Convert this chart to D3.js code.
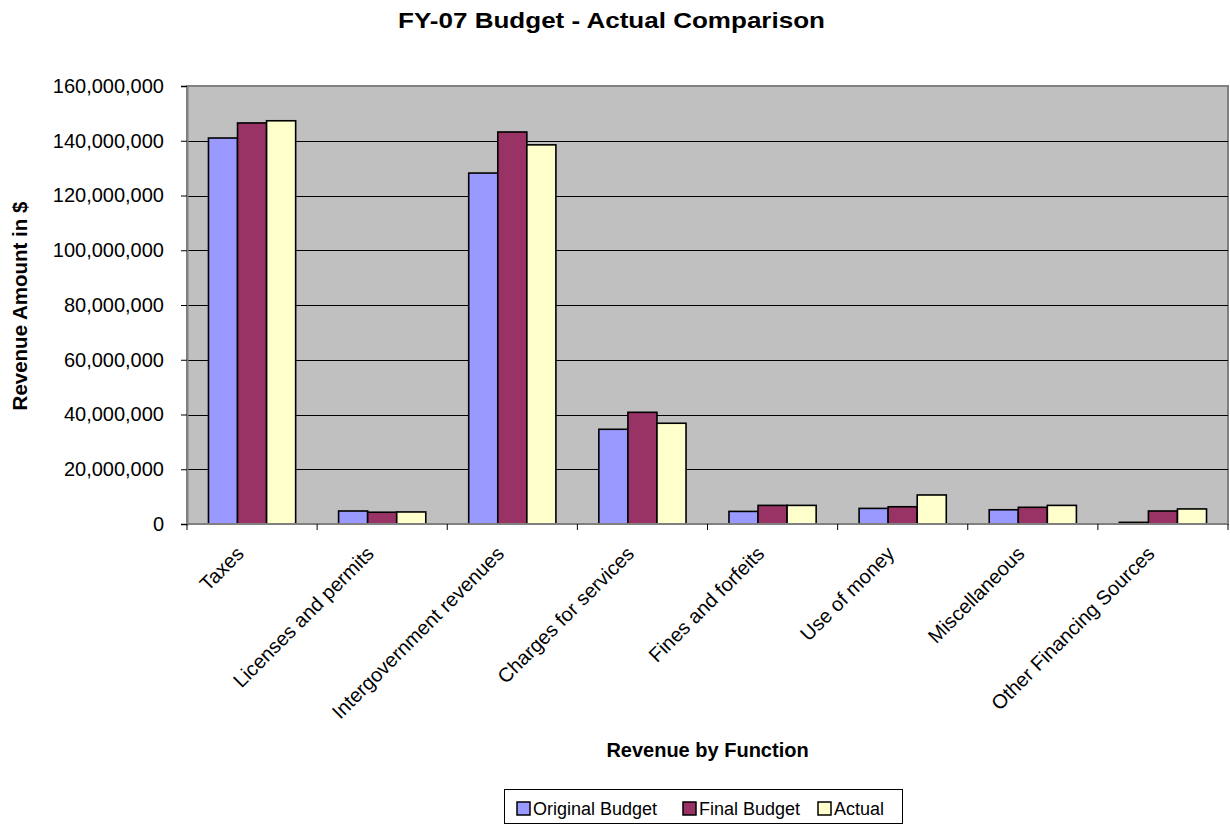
<!DOCTYPE html>
<html>
<head>
<meta charset="utf-8">
<script src="https://cdn.jsdelivr.net/npm/d3@7"></script>
<style>
  body { margin: 0; background: #fff; }
  text { font-family: "Liberation Sans", Arial, sans-serif; }
</style>
</head>
<body>
<div id="chart"></div>
<script>
// chart data
var categories = ["Taxes", "Licenses and permits", "Intergovernment revenues", "Charges for services",
                  "Fines and forfeits", "Use of money", "Miscellaneous", "Other Financing Sources"];
var seriesNames = ["Original Budget", "Final Budget", "Actual"];
var originalBudget = [141000000, 4750000, 128200000, 34600000, 4600000, 5700000, 5200000, 600000];
var finalBudget    = [146500000, 4300000, 143200000, 40800000, 6800000, 6300000, 6100000, 4750000];
var actual         = [147300000, 4400000, 138500000, 36800000, 6800000, 10600000, 6800000, 5500000];
var yTicks = [0, 20000000, 40000000, 60000000, 80000000, 100000000, 120000000, 140000000, 160000000];
var colors = ["#9999FF", "#993366", "#FFFFCC"];

var W = 1230, H = 825;
var plot = {left: 187, top: 86, right: 1228, bottom: 524};

var svg = d3.select("#chart").append("svg")
    .attr("width", W)
    .attr("height", H);

var x = d3.scaleBand()
    .domain(categories)
    .range([plot.left, plot.right])
    .paddingInner(0.33).paddingOuter(0.165);

var xs = d3.scaleBand()
    .domain(seriesNames)
    .range([0, x.bandwidth()]);

var y = d3.scaleLinear()
    .domain([0, 160000000])
    .range([plot.bottom, plot.top]);

// plot background
svg.append("rect")
    .attr("x", plot.left).attr("y", plot.top)
    .attr("width", plot.right - plot.left)
    .attr("height", plot.bottom - plot.top)
    .attr("fill", "#C0C0C0")
    .attr("stroke", "#808080")
    .attr("stroke-width", 2);

// gridlines
svg.append("g")
  .selectAll("line")
  .data(yTicks.filter(function(d) { return d > 0 && d < 160000000; }))
  .enter().append("line")
    .attr("x1", plot.left).attr("x2", plot.right)
    .attr("y1", function(d) { return Math.round(y(d)) + 0.5; })
    .attr("y2", function(d) { return Math.round(y(d)) + 0.5; })
    .attr("stroke", "#000")
    .attr("stroke-width", 1);

// bars
var series = [originalBudget, finalBudget, actual];
series.forEach(function(vals, si) {
  svg.append("g")
    .selectAll("rect")
    .data(vals)
    .enter().append("rect")
      .attr("x", function(d, i) { return x(categories[i]) + xs(seriesNames[si]); })
      .attr("y", function(d) { return y(d); })
      .attr("width", xs.bandwidth())
      .attr("height", function(d) { return plot.bottom - y(d); })
      .attr("fill", colors[si])
      .attr("stroke", "#000")
      .attr("stroke-width", 1.6);
});

// y axis
var yAxis = svg.append("g")
    .attr("transform", "translate(" + plot.left + ",0)")
    .call(d3.axisLeft(y).tickValues(yTicks).tickSize(6).tickPadding(17)
      .tickFormat(d3.format(",")));
yAxis.select(".domain").attr("stroke", "#808080").attr("stroke-width", 2);
yAxis.selectAll(".tick line").attr("stroke", "#000");
yAxis.selectAll(".tick text")
    .attr("font-size", 20)
    .attr("fill", "#000")
    .style("font-family", "'Liberation Sans', Arial, sans-serif");

// x axis line + ticks at category boundaries
var step = x.step();
var boundaries = d3.range(categories.length + 1).map(function(i) { return plot.left + i * step; });
svg.append("line")
    .attr("x1", plot.left).attr("x2", plot.right)
    .attr("y1", plot.bottom).attr("y2", plot.bottom)
    .attr("stroke", "#808080").attr("stroke-width", 2);
svg.append("g")
  .selectAll("line")
  .data(boundaries)
  .enter().append("line")
    .attr("x1", function(d) { return d; }).attr("x2", function(d) { return d; })
    .attr("y1", plot.bottom).attr("y2", plot.bottom + 6)
    .attr("stroke", "#000");

// category labels
svg.append("g")
  .selectAll("text")
  .data(categories)
  .enter().append("text")
    .attr("transform", function(d) {
      var cx = x(d) + x.bandwidth() / 2;
      return "translate(" + (cx - 7) + "," + (plot.bottom + 31) + ") rotate(-45)";
    })
    .attr("text-anchor", "end")
    .attr("font-size", 20)
    .text(function(d) { return d; });

// title
svg.append("text")
    .attr("x", 611.5).attr("y", 28)
    .attr("text-anchor", "middle")
    .attr("font-size", 21.5)
    .attr("font-weight", "bold")
    .attr("textLength", 427)
    .attr("lengthAdjust", "spacingAndGlyphs")
    .text("FY-07 Budget - Actual Comparison");

// axis titles
svg.append("text")
    .attr("x", (plot.left + plot.right) / 2).attr("y", 757)
    .attr("text-anchor", "middle")
    .attr("font-size", 20)
    .attr("font-weight", "bold")
    .text("Revenue by Function");

svg.append("text")
    .attr("transform", "translate(26.5," + ((plot.top + plot.bottom) / 2 + 1) + ") rotate(-90)")
    .attr("text-anchor", "middle")
    .attr("font-size", 20.5)
    .attr("font-weight", "bold")
    .text("Revenue Amount in $");

// legend
var legend = svg.append("g");
legend.append("rect")
    .attr("x", 504.5).attr("y", 789.5)
    .attr("width", 398).attr("height", 34)
    .attr("fill", "#fff")
    .attr("stroke", "#000");
var legendX = [517, 683, 818];
seriesNames.forEach(function(name, i) {
  legend.append("rect")
      .attr("x", legendX[i]).attr("y", 802)
      .attr("width", 13).attr("height", 13)
      .attr("fill", colors[i])
      .attr("stroke", "#000").attr("stroke-width", 1.5);
  legend.append("text")
      .attr("x", legendX[i] + 16).attr("y", 815)
      .attr("font-size", 18)
      .text(name);
});
</script>
</body>
</html>
